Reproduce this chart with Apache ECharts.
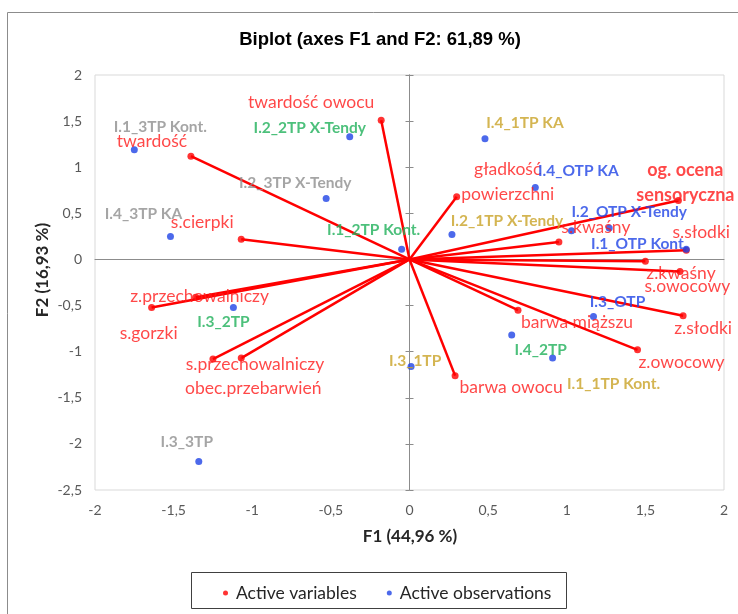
<!DOCTYPE html>
<html>
<head>
<meta charset="utf-8">
<script src="https://cdn.jsdelivr.net/npm/echarts@6/dist/echarts.min.js"></script>
<style>
  html, body { margin: 0; padding: 0; background: #ffffff; }
  #chart { width: 738px; height: 614px; }
</style>
</head>
<body>
<div id="chart"></div>
<script>
// Variable loadings (F1, F2)
const varNames = [
  'twardość owocu', 'twardość', 's.cierpki', 'z.przechowalniczy', 's.gorzki',
  's.przechowalniczy', 'obec.przebarwień', 'gładkość\npowierzchni', 'og. ocena\nsensoryczna',
  's.kwaśny', 's.słodki', 's.owocowy', 'z.kwaśny', 'z.słodki', 'z.owocowy',
  'barwa miąższu', 'barwa owocu'
];
const varF1 = [-0.18, -1.39, -1.07, -1.64, -1.36, -1.25, -1.07, 0.30, 1.71, 0.95, 1.76, 1.50, 1.72, 1.74, 1.45, 0.69, 0.29];
const varF2 = [1.51, 1.12, 0.22, -0.52, -0.41, -1.08, -1.07, 0.68, 0.64, 0.19, 0.10, -0.02, -0.13, -0.61, -0.98, -0.55, -1.26];

// Observation scores (F1, F2)
const obsNames = [
  'I.1_3TP Kont.', 'I.2_2TP X-Tendy', 'I.2_3TP X-Tendy', 'I.4_3TP KA', 'I.1_2TP Kont.',
  'I.4_1TP KA', 'I.4_OTP KA', 'I.2_1TP X-Tendy', 'I.2_OTP X-Tendy', '',
  'I.1_OTP Kont.', 'I.3_2TP', 'I.3_3TP', 'I.3_1TP', 'I.3_OTP', 'I.4_2TP', 'I.1_1TP Kont.'
];
const obsF1 = [-1.75, -0.38, -0.53, -1.52, -0.05, 0.48, 0.80, 0.27, 1.27, 1.03, 1.76, -1.12, -1.34, 0.01, 1.17, 0.65, 0.91];
const obsF2 = [1.19, 1.33, 0.66, 0.25, 0.11, 1.31, 0.78, 0.27, 0.34, 0.31, 0.11, -0.52, -2.19, -1.16, -0.62, -0.82, -1.07];

// Label placement relative to each marker, in pixels
const varLabelOffset = [
  [-70, -18], [-39, -15], [-39, -17], [48, -11], [-47, 36], [42, 5], [12, 30], [51, -15], [7, -18],
  [37, -15], [15, -18], [42, 25], [1, 2], [20, 13], [44, 13], [59, 12], [56, 12]
];
const obsLabelOffset = [
  [26, -23], [-40, -9], [-31, -16], [-27, -22], [-28, -19], [40, -16], [43, -17], [55, -14], [20, -16], [0, 0],
  [-47, -5], [-10, 15], [-12, -19], [4, -5], [24, -15], [29, 15], [61, 26]
];

const FONT = 'Lato, "Open Sans", sans-serif';
const groupColor = { O: '#1f44e6', 1: '#c9a227', 2: '#1fb05a', 3: '#8e8e8e' };
function obsColor(name) {
  const m = name.match(/_(\w)TP/);
  return m ? groupColor[m[1]] : '#1f44e6';
}
const fmt = v => String(v).replace('.', ',');
const axisLabelStyle = { fontFamily: FONT, fontSize: 14, color: '#595959' };
const zeroLine = { color: '#8c8c8c', width: 1 };

const chart = echarts.init(document.getElementById('chart'));
chart.setOption({
  animation: false,
  backgroundColor: '#ffffff',
  grid: {
    left: 95, right: 14, top: 75, bottom: 124,
    show: true, borderColor: '#d9d9d9', borderWidth: 1,
    outerBoundsMode: 'none'
  },
  xAxis: [
    {
      type: 'value', min: -2, max: 2, interval: 0.5, position: 'bottom',
      axisLine: { show: false, onZero: false }, axisTick: { show: false }, splitLine: { show: false },
      axisLabel: Object.assign({ margin: 13, formatter: fmt }, axisLabelStyle)
    },
    {
      type: 'value', min: -2, max: 2, interval: 0.5,
      axisLine: { show: true, onZero: true, onZeroAxisIndex: 0, lineStyle: zeroLine },
      axisTick: { show: false }, axisLabel: { show: false }, splitLine: { show: false }
    }
  ],
  yAxis: [
    {
      type: 'value', min: -2.5, max: 2, interval: 0.5, position: 'left',
      axisLine: { show: false, onZero: false }, axisTick: { show: false }, splitLine: { show: false },
      axisLabel: Object.assign({ margin: 13, formatter: fmt }, axisLabelStyle)
    },
    {
      type: 'value', min: -2.5, max: 2, interval: 0.5, position: 'left',
      axisLine: { show: true, onZero: true, onZeroAxisIndex: 0, lineStyle: zeroLine },
      axisTick: { show: true, length: 4, lineStyle: zeroLine },
      axisLabel: { show: false }, splitLine: { show: false }
    },
    {
      type: 'value', min: -2.5, max: 2, interval: 0.5, position: 'right',
      axisLine: { show: true, onZero: true, onZeroAxisIndex: 0, lineStyle: zeroLine },
      axisTick: { show: true, length: 4, lineStyle: zeroLine },
      axisLabel: { show: false }, splitLine: { show: false }
    }
  ],
  legend: {
    left: 218, top: 579, icon: 'circle', itemWidth: 5, itemHeight: 5, itemGap: 30,
    data: ['Active variables', 'Active observations'],
    textStyle: { fontFamily: FONT, fontSize: 17.5, color: '#262626', padding: [0, 0, 0, 3] }
  },
  graphic: [
    {
      type: 'rect', silent: true,
      shape: { x: 7.5, y: 12.5, width: 900, height: 800 },
      style: { fill: 'none', stroke: '#8c8c8c', lineWidth: 1 }
    },
    {
      type: 'rect', silent: true,
      shape: { x: 191.5, y: 572.5, width: 375, height: 36 },
      style: { fill: 'none', stroke: '#404040', lineWidth: 1 }
    },
    {
      type: 'text', x: 380, y: 40, silent: true,
      style: {
        text: 'Biplot (axes F1 and F2: 61,89 %)', fill: '#000000',
        font: 'bold 18.5px "Liberation Sans", Arial, sans-serif', textAlign: 'center', textVerticalAlign: 'middle'
      }
    },
    {
      type: 'text', x: 410, y: 537, silent: true,
      style: {
        text: 'F1 (44,96 %)', fill: '#262626',
        font: 'bold 17px ' + FONT, textAlign: 'center', textVerticalAlign: 'middle'
      }
    },
    {
      type: 'text', x: 43, y: 270, rotation: Math.PI / 2, silent: true,
      style: {
        text: 'F2 (16,93 %)', fill: '#262626',
        font: 'bold 17px ' + FONT, textAlign: 'center', textVerticalAlign: 'middle'
      }
    }
  ],
  series: [
    {
      type: 'lines', coordinateSystem: 'cartesian2d', xAxisIndex: 0, yAxisIndex: 0,
      silent: true, z: 3,
      lineStyle: { color: '#ff0000', width: 2.5, opacity: 1, curveness: 0 },
      data: varNames.map((n, i) => ({ coords: [[0, 0], [varF1[i], varF2[i]]] }))
    },
    {
      name: 'Active variables', type: 'scatter', xAxisIndex: 0, yAxisIndex: 0,
      symbol: 'circle', symbolSize: 7, z: 4,
      itemStyle: { color: '#ff0000' },
      label: {
        show: true, position: 'inside', formatter: '{b}', color: '#ff1a1a',
        fontFamily: FONT, fontSize: 17.5, lineHeight: 25, textBorderWidth: 0
      },
      data: varNames.map((n, i) => ({
        name: n, value: [varF1[i], varF2[i]],
        label: n.indexOf('og.') === 0
          ? { offset: varLabelOffset[i], fontWeight: 'bold', fontSize: 18 }
          : { offset: varLabelOffset[i] }
      }))
    },
    {
      name: 'Active observations', type: 'scatter', xAxisIndex: 0, yAxisIndex: 0,
      symbol: 'circle', symbolSize: 7, z: 4,
      itemStyle: { color: '#1f44e6' },
      label: {
        show: true, position: 'inside', formatter: '{b}',
        fontFamily: FONT, fontSize: 15.5, fontWeight: 'bold', textBorderWidth: 0
      },
      data: obsNames.map((n, i) => ({
        name: n, value: [obsF1[i], obsF2[i]],
        label: { offset: obsLabelOffset[i], color: obsColor(n) }
      }))
    }
  ]
});
</script>
</body>
</html>
